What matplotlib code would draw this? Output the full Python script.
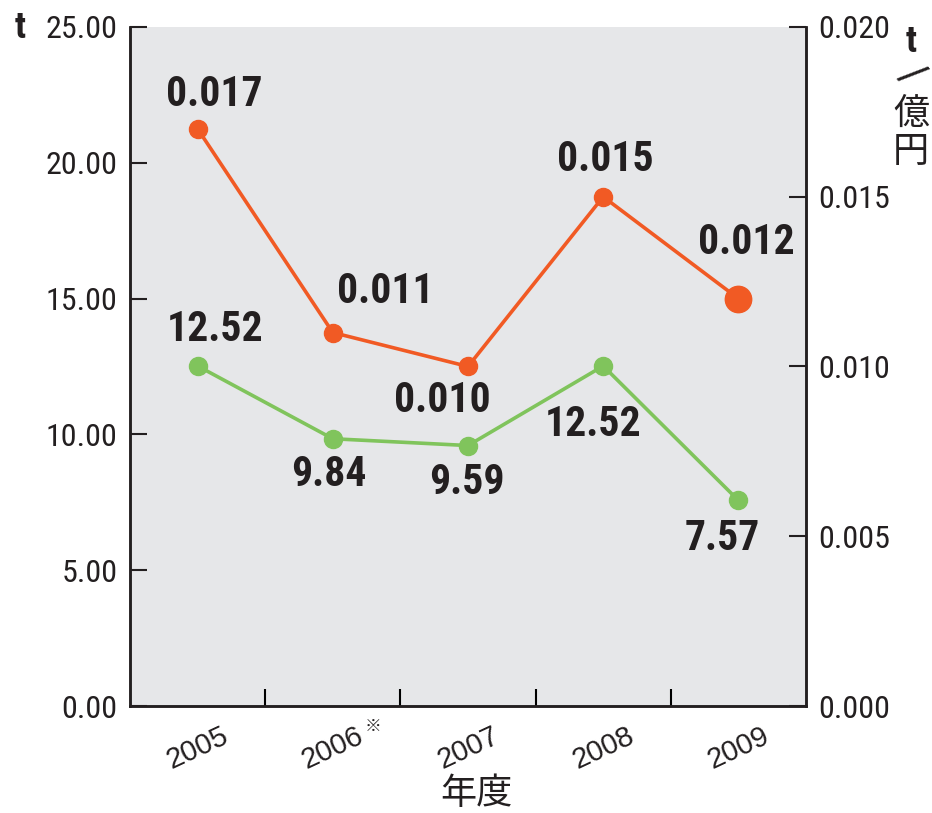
import matplotlib.pyplot as plt
import numpy as np

plt.rcParams['font.family'] = ['Roboto Condensed', 'Noto Sans CJK JP', 'DejaVu Sans']

years = ["2005", "2006", "2007", "2008", "2009"]
amount_t = [12.52, 9.84, 9.59, 12.52, 7.57]           # left axis, t
per_oku = [0.017, 0.011, 0.010, 0.015, 0.012]          # right axis, t/億円

# label offsets in pixels (dx, dy)
amount_offsets = [(17, 36), (-4, -36), (-1, -37), (-10, -59), (-16, -38)]
per_offsets = [(17, 34), (53, 41), (-26, -34), (2, 37), (8, 56)]

ORANGE = "#F15A24"
GREEN = "#80C45C"
BG = "#E6E7E9"
INK = "#231F20"
CJK = ["Noto Sans CJK JP", "DejaVu Sans"]

fig = plt.figure(figsize=(9.32, 8.13), dpi=100)
ax = fig.add_axes([130 / 932, 107 / 813, 676 / 932, 679 / 813])
ax2 = ax.twinx()
ax.set_facecolor(BG)
ax.set_zorder(ax2.get_zorder() - 1)
ax2.patch.set_visible(False)

x = np.arange(len(years))

ax.plot(x, amount_t, color=GREEN, lw=2.6, marker="o", ms=13, zorder=3)
ax2.plot(x, per_oku, color=ORANGE, lw=2.6, marker="o", ms=13, zorder=3)
ax2.plot(x[-1], per_oku[-1], color=ORANGE, marker="o", ms=19, lw=0, zorder=4)

lab_kw = dict(textcoords="offset pixels", ha="center", va="center",
              fontsize=30, fontweight="bold", color=INK)
for xi, v, (dx, dy) in zip(x, amount_t, amount_offsets):
    ax.annotate(f"{v:.2f}", (xi, v), xytext=(dx, dy), **lab_kw)
for xi, v, (dx, dy) in zip(x, per_oku, per_offsets):
    ax2.annotate(f"{v:.3f}", (xi, v), xytext=(dx, dy), **lab_kw)

ax.set_xlim(-0.5, 4.5)
ax.set_ylim(0, 25)
ax2.set_ylim(0, 0.020)
ax.set_yticks(np.arange(0, 25.1, 5))
ax.set_yticklabels([f"{v:.2f}" for v in np.arange(0, 25.1, 5)])
ax2.set_yticks(np.linspace(0, 0.020, 5))
ax2.set_yticklabels([f"{v:.3f}" for v in np.linspace(0, 0.020, 5)])

# category boundaries carry tick marks; labels sit at the centres
ax.set_xticks(np.arange(0.5, 4.5, 1))
ax.set_xticklabels([])
ax.set_xticks(x, years, minor=True)
ax.tick_params(axis="x", which="minor", length=0, pad=11, labelsize=21,
               labelrotation=25, colors=INK)
ax.tick_params(axis="x", which="major", direction="in", length=12, width=1.5)
ax.tick_params(axis="y", direction="in", length=12, width=1.5, pad=9,
               labelsize=23, colors=INK)
ax2.tick_params(axis="y", direction="in", length=12, width=1.5, pad=9,
                labelsize=23, colors=INK)
for tick in ax.xaxis.get_minor_ticks():
    tick.label1.set_fontfamily(["Liberation Sans", "DejaVu Sans"])

for a in (ax, ax2):
    a.spines["top"].set_visible(False)
    for s in ("left", "right", "bottom"):
        a.spines[s].set_linewidth(1.8)
        a.spines[s].set_color(INK)

# reference mark after 2006
ax.annotate("※", (1, 0), xycoords=("data", "axes fraction"),
            xytext=(40, -20), textcoords="offset pixels",
            fontsize=12, ha="center", va="center", color=INK, family=CJK)

ax.set_xlabel("年度", fontsize=26, color=INK, family=CJK)
ax.xaxis.set_label_coords(0.513, -0.103)

fig.text(20 / 932, 1 - 28 / 813, "t", fontsize=26, fontweight="bold",
         ha="center", va="center", color=INK)
fig.text(911 / 932, 1 - 42 / 813, "t", fontsize=26, fontweight="bold",
         ha="center", va="center", color=INK)
fig.text(911 / 932, 1 - 74 / 813, "/", fontsize=28, rotation=-52,
         ha="center", va="center", color=INK, family=["DejaVu Sans"])
fig.text(911 / 932, 1 - 114 / 813, "億", fontsize=26, ha="center",
         va="center", color=INK, family=CJK)
fig.text(911 / 932, 1 - 152 / 813, "円", fontsize=26, ha="center",
         va="center", color=INK, family=CJK)

fig.savefig("out.png", dpi=100)
